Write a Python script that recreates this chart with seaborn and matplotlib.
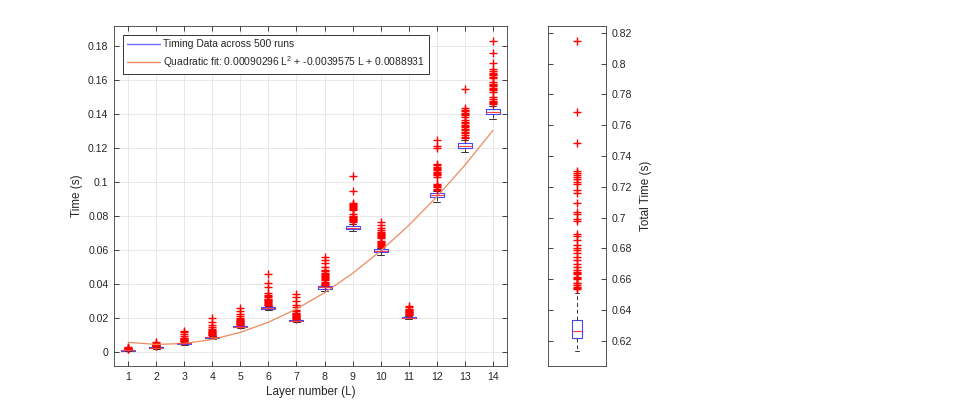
import numpy as np
import matplotlib
matplotlib.use("Agg")
import matplotlib.pyplot as plt
from matplotlib.lines import Line2D
from matplotlib.ticker import FuncFormatter, MultipleLocator
import seaborn as sns

# ---------------- data ----------------
layers = [1, 2, 3, 4, 5, 6, 7, 8, 9, 10, 11, 12, 13, 14]

q1_vals  = [0.0009, 0.0023, 0.0050, 0.0085, 0.0147, 0.0257, 0.0182, 0.0374, 0.0725, 0.0588, 0.0199, 0.0912, 0.1204, 0.1400]
med_vals = [0.0011, 0.0025, 0.0053, 0.0088, 0.0151, 0.0261, 0.0186, 0.0382, 0.0733, 0.0596, 0.0203, 0.0922, 0.1215, 0.1413]
q3_vals  = [0.0013, 0.0028, 0.0057, 0.0092, 0.0156, 0.0267, 0.0191, 0.0392, 0.0745, 0.0606, 0.0208, 0.0935, 0.1229, 0.1429]
wlo_vals = [0.0006, 0.0019, 0.0045, 0.0079, 0.0141, 0.0250, 0.0175, 0.0362, 0.0714, 0.0572, 0.0194, 0.0886, 0.1180, 0.1370]
whi_vals = [0.0016, 0.0033, 0.0061, 0.0098, 0.0161, 0.0273, 0.0196, 0.0396, 0.0755, 0.0615, 0.0214, 0.0948, 0.1250, 0.1448]

fliers_l1  = [0.0018, 0.0020, 0.0022, 0.0024, 0.0026, 0.0030]
fliers_l2  = [0.0035, 0.0037, 0.0039, 0.0041, 0.0043, 0.0045, 0.0048, 0.0052, 0.0058]
fliers_l3  = [0.0064, 0.0066, 0.0068, 0.0071, 0.0074, 0.0077, 0.0081, 0.0085, 0.0096, 0.0108, 0.0118, 0.0127]
fliers_l4  = [0.0100, 0.0103, 0.0106, 0.0110, 0.0113, 0.0117, 0.0121, 0.0125, 0.0130, 0.0135, 0.0148, 0.0161, 0.0180, 0.0204]
fliers_l5  = [0.0163, 0.0166, 0.0170, 0.0173, 0.0177, 0.0181, 0.0185, 0.0189, 0.0194, 0.0200, 0.0212, 0.0225, 0.0245, 0.0259]
fliers_l6  = [0.0276, 0.0280, 0.0285, 0.0290, 0.0295, 0.0300, 0.0305, 0.0310, 0.0316, 0.0322, 0.0328, 0.0335, 0.0350, 0.0386, 0.0406, 0.0460]
fliers_l7  = [0.0198, 0.0202, 0.0206, 0.0210, 0.0214, 0.0218, 0.0222, 0.0226, 0.0232, 0.0240, 0.0250, 0.0265, 0.0278, 0.0302, 0.0327, 0.0343]
fliers_l8  = [0.0398, 0.0404, 0.0410, 0.0416, 0.0422, 0.0428, 0.0434, 0.0440, 0.0446, 0.0452, 0.0458, 0.0466, 0.0476, 0.0485, 0.0500, 0.0527, 0.0543, 0.0559]
fliers_l9  = [0.0768, 0.0772, 0.0776, 0.0780, 0.0784, 0.0788, 0.0793, 0.0798, 0.0802, 0.0815, 0.0834, 0.0840, 0.0846, 0.0852, 0.0858, 0.0864, 0.0870, 0.0876, 0.0949, 0.1037]
fliers_l10 = [0.0620, 0.0625, 0.0630, 0.0636, 0.0642, 0.0648, 0.0653, 0.0672, 0.0678, 0.0684, 0.0690, 0.0696, 0.0702, 0.0710, 0.0718, 0.0729, 0.0749, 0.0765]
fliers_l11 = [0.0218, 0.0222, 0.0226, 0.0230, 0.0234, 0.0238, 0.0242, 0.0246, 0.0250, 0.0256, 0.0265, 0.0272]
fliers_l12 = [0.0955, 0.0962, 0.0970, 0.0978, 0.0984, 0.0992, 0.1033, 0.1040, 0.1048, 0.1055, 0.1062, 0.1070, 0.1078, 0.1085, 0.1092, 0.1100, 0.1108, 0.1200, 0.1214, 0.1249]
fliers_l13 = [0.1262, 0.1268, 0.1276, 0.1290, 0.1298, 0.1306, 0.1314, 0.1322, 0.1330, 0.1338, 0.1346, 0.1354, 0.1366, 0.1386, 0.1394, 0.1402, 0.1410, 0.1418, 0.1426, 0.1435, 0.1549]
fliers_l14 = [0.1462, 0.1468, 0.1474, 0.1480, 0.1488, 0.1500, 0.1533, 0.1540, 0.1548, 0.1556, 0.1564, 0.1572, 0.1580, 0.1592, 0.1612, 0.1620, 0.1628, 0.1636, 0.1644, 0.1652, 0.1665, 0.1704, 0.1759, 0.1831]
fliers_by_layer = [fliers_l1, fliers_l2, fliers_l3, fliers_l4, fliers_l5, fliers_l6, fliers_l7,
                   fliers_l8, fliers_l9, fliers_l10, fliers_l11, fliers_l12, fliers_l13, fliers_l14]

# quadratic fit evaluated at each layer (0.00090296 L^2 - 0.0039575 L + 0.0088931)
fit_vals = [0.0058386, 0.0045899, 0.0051472, 0.0075105, 0.0116796, 0.0176547, 0.0254356,
            0.0350225, 0.0464154, 0.0596141, 0.0746188, 0.0914293, 0.1100458, 0.1304683]

fit_label = "Quadratic fit: 0.00090296 L$^2$ + -0.0039575 L + 0.0088931"
data_label = "Timing Data across 500 runs"

# total time box (right panel)
total_q1, total_med, total_q3 = 0.6219, 0.6265, 0.6334
total_wlo, total_whi = 0.6135, 0.6508
total_fliers = [0.8144, 0.7683, 0.7486, 0.7302, 0.7291, 0.7276, 0.7265, 0.7250, 0.7233, 0.7216,
                0.7179, 0.7157, 0.7092, 0.7034, 0.7021, 0.6990, 0.6977, 0.6893, 0.6880, 0.6854,
                0.6821, 0.6800, 0.6789, 0.6767, 0.6745, 0.6724, 0.6698, 0.6681, 0.6659, 0.6648,
                0.6638, 0.6633, 0.6616, 0.6605, 0.6599, 0.6577, 0.6573, 0.6562, 0.6547, 0.6540, 0.6534]

# ---------------- style ----------------
sns.set_style("ticks")
plt.rcParams["font.family"] = ["Liberation Sans", "DejaVu Sans"]
plt.rcParams["mathtext.default"] = "regular"
TXT = "#262626"
plt.rcParams.update({
    "text.color": TXT, "axes.labelcolor": TXT, "xtick.color": TXT, "ytick.color": TXT,
    "axes.edgecolor": "#3a3a3a", "axes.linewidth": 0.6,
})

fig = plt.figure(figsize=(9.57, 4.13), dpi=100)
ax = fig.add_axes([114 / 957, 47 / 413, 393 / 957, 340 / 413])
ax2 = fig.add_axes([548 / 957, 47 / 413, 58 / 957, 340 / 413])

RED = "#ff0000"
box_kw = dict(
    boxprops=dict(color="#4646ff", linewidth=0.8),
    medianprops=dict(color="#ff4040", linewidth=0.8),
    whiskerprops=dict(color="#333333", linewidth=0.7, linestyle=(0, (4, 3))),
    capprops=dict(color="#333333", linewidth=0.7),
    flierprops=dict(marker="+", color=RED, markeredgecolor=RED, markerfacecolor=RED,
                    markersize=5.5, markeredgewidth=1.0, linestyle="none"),
)

stats = []
for i in range(len(layers)):
    stats.append(dict(med=med_vals[i], q1=q1_vals[i], q3=q3_vals[i],
                      whislo=wlo_vals[i], whishi=whi_vals[i], fliers=fliers_by_layer[i]))
ax.bxp(stats, positions=layers, widths=0.5, manage_ticks=False, **box_kw)

sns.lineplot(x=layers, y=fit_vals, ax=ax, color="#eb8a5e", linewidth=0.9, legend=False)

ax.set_xlim(0.5, 14.5)
ax.set_ylim(-0.0081, 0.1919)
ax.set_xticks(layers)
ax.yaxis.set_major_locator(MultipleLocator(0.02))
ax.yaxis.set_major_formatter(FuncFormatter(lambda v, p: "%g" % round(v, 4)))
ax.grid(True, color="#e4e4e4", linewidth=0.6)
ax.set_axisbelow(True)
ax.tick_params(direction="in", length=3.5, width=0.6, top=True, right=True, labelsize=7.6, pad=4)
ax.set_xlabel("Layer number (L)", fontsize=8.4, labelpad=3)
ax.set_ylabel("Time (s)", fontsize=8.4, labelpad=4)

handles = [Line2D([], [], color="#6f6fff", linewidth=1.0),
           Line2D([], [], color="#eb8a5e", linewidth=1.0)]
leg = ax.legend(handles, [data_label, fit_label], loc="upper left",
                bbox_to_anchor=(9 / 393, 1 - 9 / 340), borderaxespad=0,
                fontsize=7.4, frameon=True, fancybox=False, framealpha=1,
                handlelength=3.2, handletextpad=0.3, labelspacing=0.5,
                borderpad=0.4)
leg.get_frame().set_edgecolor("#333333")
leg.get_frame().set_linewidth(0.7)

# right panel: total time
tstats = [dict(med=total_med, q1=total_q1, q3=total_q3, whislo=total_wlo,
               whishi=total_whi, fliers=total_fliers)]
ax2.bxp(tstats, positions=[1], widths=0.16, manage_ticks=False, **box_kw)
ax2.set_xlim(0.5, 1.5)
ax2.set_ylim(0.6036, 0.8244)
ax2.set_xticks([])
ax2.yaxis.set_major_locator(MultipleLocator(0.02))
ax2.yaxis.set_major_formatter(FuncFormatter(lambda v, p: "%g" % round(v, 4)))
ax2.tick_params(axis="y", direction="in", length=3.5, width=0.6, left=True, right=True,
                labelleft=False, labelright=True, labelsize=7.6, pad=4)
ax2.yaxis.set_label_position("right")
ax2.set_ylabel("Total Time (s)", fontsize=8.4, labelpad=6)

fig.savefig("out.png", dpi=100)
